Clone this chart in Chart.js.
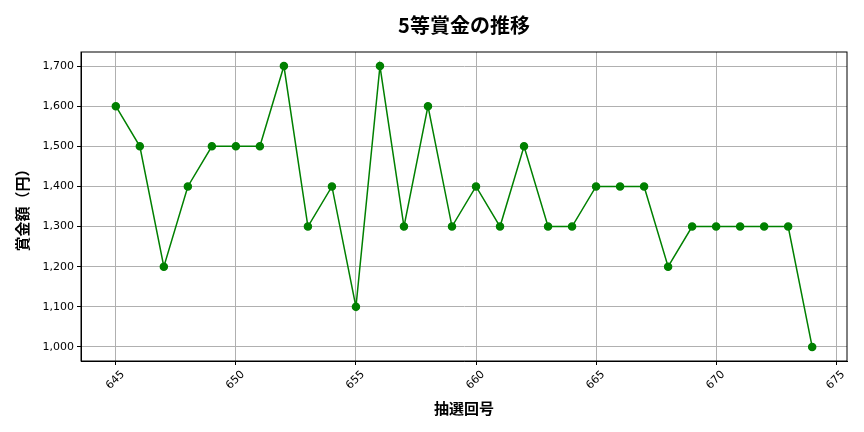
<!DOCTYPE html>
<html>
<head>
<meta charset="utf-8">
<script src="https://cdn.jsdelivr.net/npm/chart.js@4"></script>
<style>
  html, body { margin: 0; padding: 0; background: #fff; }
  #wrap { width: 864px; height: 432px; }
</style>
</head>
<body>
<div id="wrap"><canvas id="myChart"></canvas></div>
<script>
// draw numbers and prize amounts (yen)
var rounds = [645, 646, 647, 648, 649, 650, 651, 652, 653, 654, 655, 656, 657, 658, 659,
              660, 661, 662, 663, 664, 665, 666, 667, 668, 669, 670, 671, 672, 673, 674];
var prizes = [1600, 1500, 1200, 1400, 1500, 1500, 1500, 1700, 1300, 1400, 1100, 1700, 1300, 1600, 1300,
              1400, 1300, 1500, 1300, 1300, 1400, 1400, 1400, 1200, 1300, 1300, 1300, 1300, 1300, 1000];
var chartTitle = '5等賞金の推移';

var tickFont = { family: 'DejaVu Sans', size: 11 };
var labelFont = { family: 'Noto Sans CJK JP', size: 15, weight: 'bold' };

// frame around the plot area and the title centred over it (matplotlib style)
var frame = {
  id: 'frame',
  afterDraw: function (chart) {
    var a = chart.chartArea, c = chart.ctx;
    c.save();
    c.strokeStyle = '#000';
    c.lineWidth = 1;
    c.strokeRect(a.left, a.top, a.right - a.left, a.bottom - a.top);
    c.fillStyle = '#000';
    c.font = 'bold 20px "Noto Sans CJK JP"';
    c.textAlign = 'center';
    c.textBaseline = 'middle';
    c.fillText(chartTitle, (a.left + a.right) / 2, 25);
    c.restore();
  }
};

var ctx = document.getElementById('myChart').getContext('2d');
var chart = new Chart(ctx, {
  type: 'line',
  data: {
    datasets: [{
      data: rounds.map(function (r, i) { return { x: r, y: prizes[i] }; }),
      borderColor: '#008000',
      backgroundColor: '#008000',
      borderWidth: 1.5,
      pointRadius: 3.5,
      pointHoverRadius: 3.5,
      tension: 0
    }]
  },
  options: {
    responsive: true,
    maintainAspectRatio: false,
    animation: false,
    locale: 'en-US',
    layout: { padding: { left: 0, right: 17, top: 52, bottom: 0 } },
    plugins: {
      legend: { display: false },
      tooltip: { enabled: false },
      title: { display: false }
    },
    scales: {
      x: {
        type: 'linear',
        min: 643.55,
        max: 675.45,
        afterFit: function (s) { s.height = 71; },
        ticks: {
          stepSize: 5,
          includeBounds: false,
          maxRotation: 45,
          minRotation: 45,
          labelOffset: 7,
          color: '#000',
          font: tickFont,
          callback: function (v) { return String(v); }
        },
        grid: { color: '#b0b0b0', tickColor: '#000', tickLength: 4 },
        border: { display: true, color: '#000' },
        title: { display: true, text: '抽選回号', color: '#000', font: labelFont, padding: { top: 4, bottom: 15 } }
      },
      y: {
        min: 965,
        max: 1735,
        afterFit: function (s) { s.width = 81; },
        ticks: {
          stepSize: 100,
          includeBounds: false,
          color: '#000',
          font: tickFont
        },
        grid: { color: '#b0b0b0', tickColor: '#000', tickLength: 4 },
        border: { display: true, color: '#000' },
        title: { display: true, text: '賞金額（円）', color: '#000', font: labelFont, padding: { top: 13, bottom: 4 } }
      }
    }
  },
  plugins: [frame]
});
</script>
</body>
</html>
